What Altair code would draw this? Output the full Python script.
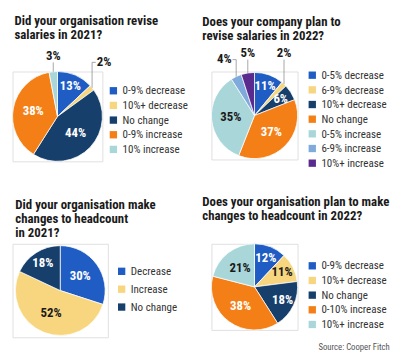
import altair as alt
import pandas as pd

FONT = "Roboto Condensed, Liberation Sans Narrow, DejaVu Sans Condensed, Roboto, sans-serif"

BLUE = "#1f5cc4"
YELLOW = "#f8d67f"
NAVY = "#173f6b"
ORANGE = "#f47f16"
CYAN = "#a9d7d9"
LBLUE = "#7fabdc"
PURPLE = "#5a2b8e"
LIGHT = [YELLOW, CYAN, LBLUE]

# ---- data ----
t1 = ["Did your organisation revise", "salaries in 2021?"]
c1 = ["0-9% decrease", "10%+ decrease", "No change", "0-9% increase", "10% increase"]
v1 = [13, 2, 44, 38, 3]
k1 = [BLUE, YELLOW, NAVY, ORANGE, CYAN]

t2 = ["Does your company plan to", "revise salaries in 2022?"]
c2 = ["0-5% decrease", "6-9% decrease", "10%+ decrease", "No change",
      "0-5% increase", "6-9% increase", "10%+ increase"]
v2 = [11, 2, 6, 37, 35, 4, 5]
k2 = [BLUE, YELLOW, NAVY, ORANGE, CYAN, LBLUE, PURPLE]

t3 = ["Did your organisation make", "changes to headcount", "in 2021?"]
c3 = ["Decrease", "Increase", "No change"]
v3 = [30, 52, 18]
k3 = [BLUE, YELLOW, NAVY]

t4 = ["Does your organisation plan to make", "changes to headcount in 2022?"]
c4 = ["0-9% decrease", "10%+ decrease", "No change", "0-10% increase", "10%+ increase"]
v4 = [12, 11, 18, 38, 21]
k4 = [BLUE, YELLOW, NAVY, ORANGE, CYAN]

SOURCE = "Source: Cooper Fitch"

# leader-label side for small slices: -1 left, 0 above, 1 right
SIDE1 = {"10%+ decrease": 1}
SIDE2 = {"6-9% increase": -1}


def pie(title, cats, vals, cols, r, w, h, lx, ly, rowpad, toff, tdx, side=None, lead=10):
    side = side or {}
    df = pd.DataFrame({
        "cat": cats,
        "v": vals,
        "idx": list(range(len(cats))),
        "light": [c in LIGHT for c in cols],
        "side": [side.get(c, 0) for c in cats],
    })
    base = alt.Chart(df).transform_joinaggregate(tot="sum(v)").transform_window(
        cum="sum(v)", sort=[alt.SortField("idx")], frame=[None, 0]
    ).transform_calculate(
        mid="2*PI*(datum.cum - datum.v/2)/datum.tot",
    )
    arcs = alt.Chart(df).mark_arc(outerRadius=r, stroke="white", strokeWidth=0.8).encode(
        theta=alt.Theta("v:Q", stack=True),
        order=alt.Order("idx:Q"),
        color=alt.Color(
            "cat:N",
            scale=alt.Scale(domain=cats, range=cols),
            sort=cats,
            legend=alt.Legend(
                title=None, orient="none", legendX=lx, legendY=ly,
                symbolType="square", symbolSize=64, symbolStrokeWidth=0,
                labelFont=FONT, labelFontSize=12, labelColor="#333",
                rowPadding=rowpad, padding=0, labelOffset=4, labelLimit=200,
            ),
        ),
    )
    big = base.transform_filter("datum.v >= 6").transform_calculate(
        lr=f"datum.v >= 20 ? {0.55 * r} : {0.72 * r}",
    ).transform_calculate(
        tx=f"{w / 2} + datum.lr * sin(datum.mid)",
        ty=f"{h / 2} - datum.lr * cos(datum.mid)",
        lab="datum.v + '%'",
    )
    inner = big.mark_text(font=FONT, fontSize=14, fontWeight="bold").encode(
        x=alt.X("tx:Q", scale=None),
        y=alt.Y("ty:Q", scale=None),
        text="lab:N",
        color=alt.condition("datum.light", alt.value("#1a1a1a"), alt.value("white")),
    )
    small = base.transform_filter("datum.v < 6").transform_calculate(
        ex=f"{w / 2} + {r} * sin(datum.mid)",
        ey=f"{h / 2} - {r} * cos(datum.mid)",
        ly=f"{h / 2 - r - lead}",
    ).transform_calculate(
        hx="datum.ex + datum.side * 4",
        tx="datum.side == 0 ? datum.ex : datum.ex + datum.side * 13",
        ty="datum.side == 0 ? datum.ly - 7 : datum.ly",
        sl="datum.v + '%'",
    )
    vline = small.mark_rule(color="#888", strokeWidth=0.8).encode(
        x=alt.X("ex:Q", scale=None), y=alt.Y("ey:Q", scale=None), y2="ly:Q"
    )
    hook = small.transform_filter("datum.side != 0").mark_rule(color="#888", strokeWidth=0.8).encode(
        x=alt.X("ex:Q", scale=None), x2="hx:Q", y=alt.Y("ly:Q", scale=None)
    )
    slab = small.mark_text(font=FONT, fontSize=14, fontWeight="bold", color="#1a1a1a").encode(
        x=alt.X("tx:Q", scale=None), y=alt.Y("ty:Q", scale=None), text="sl:N"
    )
    return alt.layer(arcs, inner, vline, hook, slab).properties(
        width=w, height=h,
        title=alt.TitleParams(
            text=title, anchor="start", frame="group", font=FONT, fontSize=14,
            fontWeight="bold", color="#1a1a1a", lineHeight=15.5, offset=toff, dx=tdx,
        ),
    )


p1 = pie(t1, c1, v1, k1, 49, 98, 98, 104, 15, 4, 8, 2, SIDE1, 10)
p2 = pie(t2, c2, v2, k2, 47, 94, 96, 104, -2, 4, 4, -10, SIDE2, 14)
p3 = pie(t3, c3, v3, k3, 49, 104, 102, 113, 24, 7.5, 4, 3)
p4 = pie(t4, c4, v4, k4, 47, 94, 94, 104, 18, 4, 21, -10)

chart = alt.concat(
    p1, p2, p3, p4, columns=2, bounds="flush", spacing={"row": 90, "column": 113}
).resolve_scale(color="independent").resolve_legend(
    color="independent"
).properties(
    padding={"left": 2, "top": -9, "right": 2, "bottom": 0},
    title=alt.TitleParams(
        SOURCE, orient="bottom", anchor="end", font=FONT, fontSize=9.5,
        fontWeight="normal", color="#555", offset=5,
    ),
).configure_view(stroke=None).configure(background="white")

chart.save("out.html", embed_options={"renderer": "svg", "actions": False})
